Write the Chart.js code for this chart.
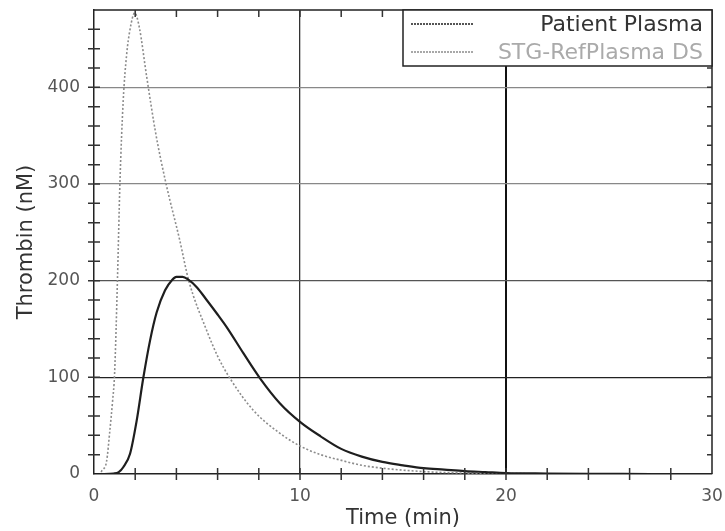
<!DOCTYPE html>
<html>
<head>
<meta charset="utf-8">
<script src="https://cdn.jsdelivr.net/npm/chart.js@4/dist/chart.umd.min.js"></script>
<style>
  body { margin: 0; background: #fff; }
  canvas { display: block; }
</style>
</head>
<body>
<canvas id="chart" width="725" height="531"></canvas>
<script>
// thrombin generation curves
const patientTime = [0, 0.5, 0.95, 1.2, 1.42, 1.75, 2.07, 2.39, 2.72, 3.04, 3.45, 3.8, 4.0, 4.3, 4.58, 5.0, 5.47, 6.0, 6.44, 7.25, 8.06, 9.03, 10, 11, 12, 13, 14, 15, 16, 17, 18, 19, 20, 22, 24, 27];
const patientThrombin = [0, 0, 0.5, 2, 7, 21, 55, 99, 138, 167, 190, 201, 204, 204, 201, 193, 180, 165, 152, 125, 99, 73, 54, 39, 26, 18, 12.5, 9, 6, 4.5, 3, 2, 1, 0.5, 0.2, 0];

const refTime = [0, 0.25, 0.4, 0.61, 0.77, 0.9, 1.0, 1.14, 1.26, 1.42, 1.58, 1.75, 1.98, 2.2, 2.55, 3.0, 3.5, 4.15, 4.6, 5.46, 6.0, 6.6, 7.73, 9.03, 10, 11, 11.94, 13, 14, 15, 16, 17, 18, 20, 22, 26];
const refThrombin = [0, 0, 4, 13, 45, 75, 104, 202, 302, 387, 433, 460, 477, 462, 412, 352, 300, 243, 200, 149, 122, 99, 66, 42, 29, 20, 14.5, 9, 6, 4, 2.5, 1.5, 1, 0.5, 0.2, 0];

const seriesLabels = ["Patient Plasma", "STG-RefPlasma DS"];
const xTickLabels = [0, 10, 20, 30];
const yTickLabels = [0, 100, 200, 300, 400];

const toPoints = (xs, ys) => xs.map((x, i) => ({ x: x, y: ys[i] }));

const FONT = "'DejaVu Sans', sans-serif";

// frame, small ticks and the boxed legend
const framePlugin = {
  id: "frame",
  afterDatasetsDraw(chart) {
    const ctx = chart.ctx;
    const a = chart.chartArea;
    const xs = chart.scales.x;
    const ys = chart.scales.y;
    ctx.save();
    ctx.strokeStyle = "#222";
    ctx.lineWidth = 1.5;
    ctx.beginPath();
    ctx.moveTo(a.left, a.top);
    ctx.lineTo(a.right, a.top);
    ctx.lineTo(a.right, a.bottom);
    ctx.stroke();

    ctx.lineWidth = 1.5;
    ctx.strokeStyle = "#333";
    ctx.beginPath();
    for (let t = 2; t < 30; t += 2) {
      const px = xs.getPixelForValue(t);
      ctx.moveTo(px, a.bottom - 6);
      ctx.lineTo(px, a.bottom + 6);
      ctx.moveTo(px, a.top);
      ctx.lineTo(px, a.top + 7);
    }
    for (let v = 20; v < 480; v += 20) {
      const py = ys.getPixelForValue(v);
      ctx.moveTo(a.left - 6, py);
      ctx.lineTo(a.left + 6, py);
      ctx.moveTo(a.right, py);
      ctx.lineTo(a.right - 5, py);
    }
    ctx.stroke();

    // legend box
    const w = 309, h = 56;
    const lx = a.right - w, ly = a.top;
    ctx.fillStyle = "#fff";
    ctx.fillRect(lx, ly, w, h);
    ctx.strokeStyle = "#222";
    ctx.lineWidth = 1.5;
    ctx.strokeRect(lx, ly, w, h);
    const textColors = ["#333", "#aaa"];
    chart.data.datasets.forEach((ds, i) => {
      const cy = ly + 14 + i * 28;
      ctx.strokeStyle = ds.borderColor;
      ctx.lineWidth = 1.5;
      ctx.setLineDash([2, 1]);
      ctx.beginPath();
      ctx.moveTo(lx + 8, cy);
      ctx.lineTo(lx + 70, cy);
      ctx.stroke();
      ctx.setLineDash([]);
      ctx.fillStyle = textColors[i];
      ctx.font = "22px " + FONT;
      ctx.textAlign = "right";
      ctx.textBaseline = "middle";
      ctx.fillText(ds.label, a.right - 9, cy + 1);
    });
    ctx.restore();
  }
};

new Chart(document.getElementById("chart"), {
  type: "line",
  data: {
    datasets: [
      {
        label: seriesLabels[0],
        data: toPoints(patientTime, patientThrombin),
        borderColor: "#1e1e1e",
        borderWidth: 2.2,
        pointRadius: 0,
        cubicInterpolationMode: "monotone",
        fill: false
      },
      {
        label: seriesLabels[1],
        data: toPoints(refTime, refThrombin),
        borderColor: "#8c8c8c",
        borderWidth: 1.6,
        borderDash: [2, 2],
        pointRadius: 0,
        cubicInterpolationMode: "monotone",
        fill: false
      }
    ]
  },
  options: {
    responsive: false,
    animation: false,
    devicePixelRatio: 1,
    layout: { padding: { top: 10, right: 13, left: 0, bottom: 0 } },
    plugins: { legend: { display: false }, tooltip: { enabled: false } },
    scales: {
      x: {
        type: "linear",
        min: 0,
        max: 30,
        afterBuildTicks: (axis) => { axis.ticks = xTickLabels.map(v => ({ value: v })); },
        afterFit: (axis) => {
          axis.height = 57;
          axis.paddingLeft = 0;
          axis.paddingRight = 0;
        },
        grid: {
          drawTicks: false,
          color: (c) => c.tick && c.tick.value === 20 ? "#111" : (c.tick && c.tick.value === 10 ? "#333" : "rgba(0,0,0,0)"),
          lineWidth: (c) => c.tick && c.tick.value === 20 ? 2 : 1.3
        },
        border: { color: "#222", width: 1.5 },
        ticks: { color: "#555", font: { family: FONT, size: 17 }, padding: 12, maxRotation: 0 },
        title: { display: true, text: "Time (min)", color: "#333", font: { family: FONT, size: 21 }, padding: { top: 0, bottom: 0 } }
      },
      y: {
        min: 0,
        max: 480,
        afterBuildTicks: (axis) => { axis.ticks = yTickLabels.map(v => ({ value: v })); },
        afterFit: (axis) => {
          axis.width = 94;
          axis.paddingTop = 0;
          axis.paddingBottom = 0;
        },
        grid: {
          drawTicks: false,
          color: (c) => {
            if (!c.tick) return "rgba(0,0,0,0)";
            const v = c.tick.value;
            if (v === 100) return "#222";
            if (v === 200) return "#555";
            if (v === 0) return "rgba(0,0,0,0)";
            return "#888";
          },
          lineWidth: 1.3
        },
        border: { color: "#222", width: 1.5 },
        ticks: { color: "#555", font: { family: FONT, size: 17 }, padding: 14 },
        title: { display: true, text: "Thrombin (nM)", color: "#333", font: { family: FONT, size: 21 }, padding: { top: 14, bottom: 0 } }
      }
    }
  },
  plugins: [framePlugin]
});
</script>
</body>
</html>
